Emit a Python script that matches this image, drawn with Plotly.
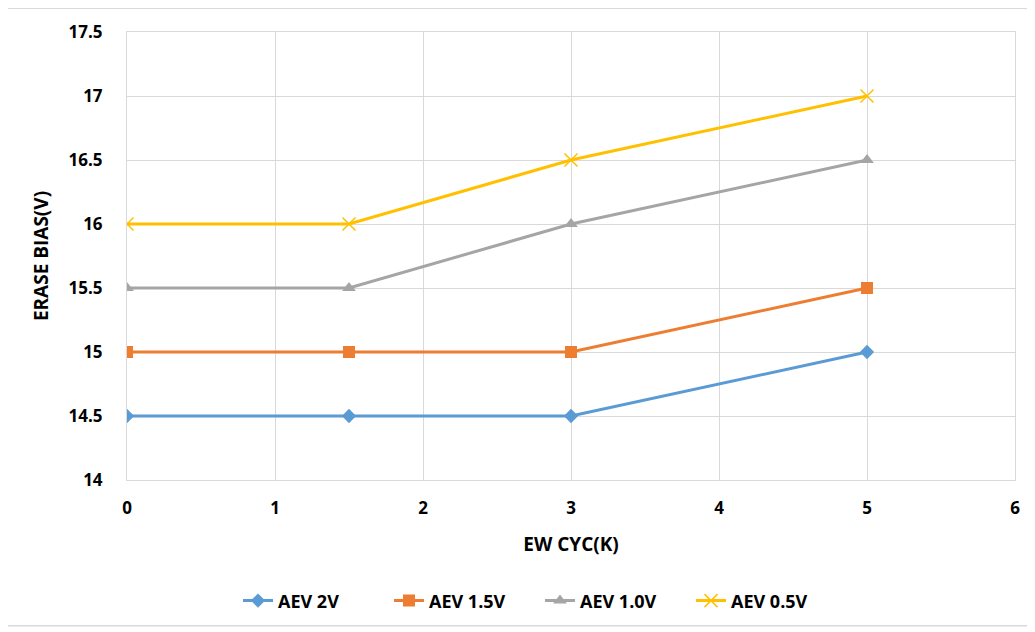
import plotly.graph_objects as go

x_vals = [0, 1.5, 3, 5]
aev_2v = [14.5, 14.5, 14.5, 15.0]
aev_15v = [15.0, 15.0, 15.0, 15.5]
aev_10v = [15.5, 15.5, 16.0, 16.5]
aev_05v = [16.0, 16.0, 16.5, 17.0]
names = ["AEV 2V", "AEV 1.5V", "AEV 1.0V", "AEV 0.5V"]
colors = ["#5B9BD5", "#ED7D31", "#A5A5A5", "#FFC000"]
symbols = ["diamond", "square", "triangle-up", "x-thin-open"]
sizes = [11, 12, 12, 13]

FONT = "'Open Sans', Lato, Arial, sans-serif"
OFF = 8  # page body margin

fig = go.Figure()
for ys, n, c, s, sz in zip([aev_2v, aev_15v, aev_10v, aev_05v], names, colors, symbols, sizes):
    marker = dict(symbol=s, size=sz, color=c)
    if s == "x-thin-open":
        marker["line"] = dict(color=c, width=1.5)
    fig.add_trace(go.Scatter(x=x_vals, y=ys, name=n, mode="lines+markers",
                             line=dict(color=c, width=3), marker=marker))

W, H = 1035 - OFF, 632 - OFF
ml = 127 - OFF
mt = 29 - OFF
plot_right = 1015 - OFF
plot_bottom = 481 - OFF
mr = W - plot_right
mb = H - plot_bottom
pw, ph = W - ml - mr, H - mt - mb

def px_x(p):
    return (p - OFF - ml) / pw

def px_y(p):
    return (plot_bottom - (p - OFF)) / ph

tick_font = dict(family=FONT, size=17, color="#000000", weight="bold")

fig.update_layout(
    width=W, height=H,
    margin=dict(l=ml, r=mr, t=mt, b=mb),
    paper_bgcolor="white", plot_bgcolor="white",
    font=dict(family=FONT, size=17, color="#000000"),
    showlegend=True,
    legend=dict(orientation="h", x=px_x(540), xanchor="center", y=px_y(603), yanchor="middle",
                font=dict(family=FONT, size=18, color="#000000", weight="bold"),
                entrywidth=106, entrywidthmode="pixels",
                traceorder="normal"),
    xaxis=dict(range=[0, 6], dtick=1, showgrid=True, gridcolor="#D9D9D9", gridwidth=1,
               zeroline=False, showline=True, linecolor="#D9D9D9", mirror=True,
               ticks="", ticklabelstandoff=13, tickfont=tick_font,
               title=dict(text="<b>EW CYC(K)</b>", font=dict(family=FONT, size=19), standoff=19)),
    yaxis=dict(range=[14, 17.5], dtick=0.5, showgrid=True, gridcolor="#D9D9D9", gridwidth=1,
               zeroline=False, showline=True, linecolor="#D9D9D9", mirror=True,
               ticks="", ticklabelstandoff=20, tickfont=tick_font,
               title=dict(text="<b>ERASE BIAS(V)</b>", font=dict(family=FONT, size=19), standoff=14)),
    shapes=[dict(type="rect", xref="paper", yref="paper",
                 x0=px_x(7), x1=px_x(1030), y0=px_y(628), y1=px_y(5),
                 line=dict(color="#D9D9D9", width=1.5), fillcolor="rgba(0,0,0,0)", layer="below")],
)

fig.write_html("out.html")
